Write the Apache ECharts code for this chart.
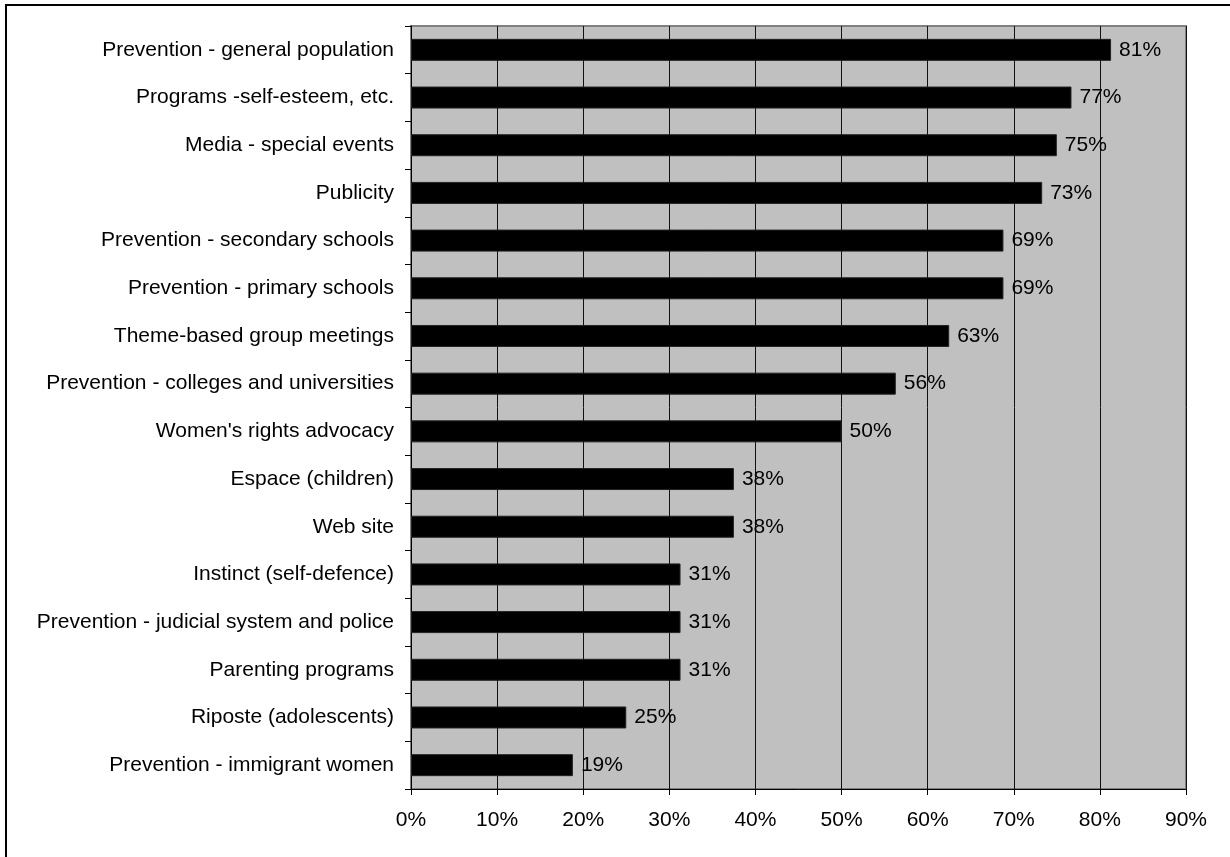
<!DOCTYPE html>
<html><head><meta charset="utf-8">
<script src="https://cdn.jsdelivr.net/npm/echarts@6/dist/echarts.min.js"></script>
<style>html,body{margin:0;padding:0;background:#fff}#c{width:1230px;height:857px}</style>
</head><body><div id="c"></div>
<script>
const categories = [
  "Prevention - general population",
  "Programs -self-esteem, etc.",
  "Media - special events",
  "Publicity",
  "Prevention - secondary schools",
  "Prevention - primary schools",
  "Theme-based group meetings",
  "Prevention - colleges and universities",
  "Women's rights advocacy",
  "Espace (children)",
  "Web site",
  "Instinct (self-defence)",
  "Prevention - judicial system and police",
  "Parenting programs",
  "Riposte (adolescents)",
  "Prevention - immigrant women"
];
const values = [81.3, 76.7, 75.0, 73.3, 68.8, 68.8, 62.5, 56.3, 50.0, 37.5, 37.5, 31.3, 31.3, 31.3, 25.0, 18.8];
const xTicks = [0, 10, 20, 30, 40, 50, 60, 70, 80, 90];

const chart = echarts.init(document.getElementById('c'), null, {renderer: 'canvas'});
const font = 'Liberation Sans, Arial, sans-serif';
chart.setOption({
  animation: false,
  graphic: [{
    type: 'rect', z: 0,
    shape: {x: 6, y: 5, width: 1300, height: 900},
    style: {fill: 'none', stroke: '#000', lineWidth: 2}
  }],
  grid: {left: 411, right: 44, top: 26, bottom: 68, show: true,
         backgroundColor: '#C0C0C0', borderColor: '#808080', borderWidth: 2},
  xAxis: {
    type: 'value', min: 0, max: 90, interval: 10,
    axisLine: {show: true, lineStyle: {color: '#000', width: 1}},
    axisTick: {show: true, length: 6, lineStyle: {color: '#000'}},
    axisLabel: {formatter: v => xTicks.includes(v) ? v + '%' : '', color: '#000', fontSize: 21, fontFamily: font, margin: 21},
    splitLine: {show: true, lineStyle: {color: '#111', width: 1}}
  },
  yAxis: {
    type: 'category', data: categories, inverse: true,
    axisLine: {show: true, lineStyle: {color: '#000', width: 1}},
    axisTick: {show: true, length: 6, lineStyle: {color: '#000'}},
    axisLabel: {color: '#000', fontSize: 21, fontFamily: font, margin: 17},
    splitLine: {show: false}
  },
  series: [{
    type: 'bar', data: values, barWidth: 22,
    itemStyle: {color: '#000', borderColor: '#222', borderWidth: 1},
    label: {show: true, position: 'right', distance: 8, color: '#000', fontSize: 21, fontFamily: font,
            formatter: p => Math.round(p.value) + '%'}
  }]
});
</script></body></html>
